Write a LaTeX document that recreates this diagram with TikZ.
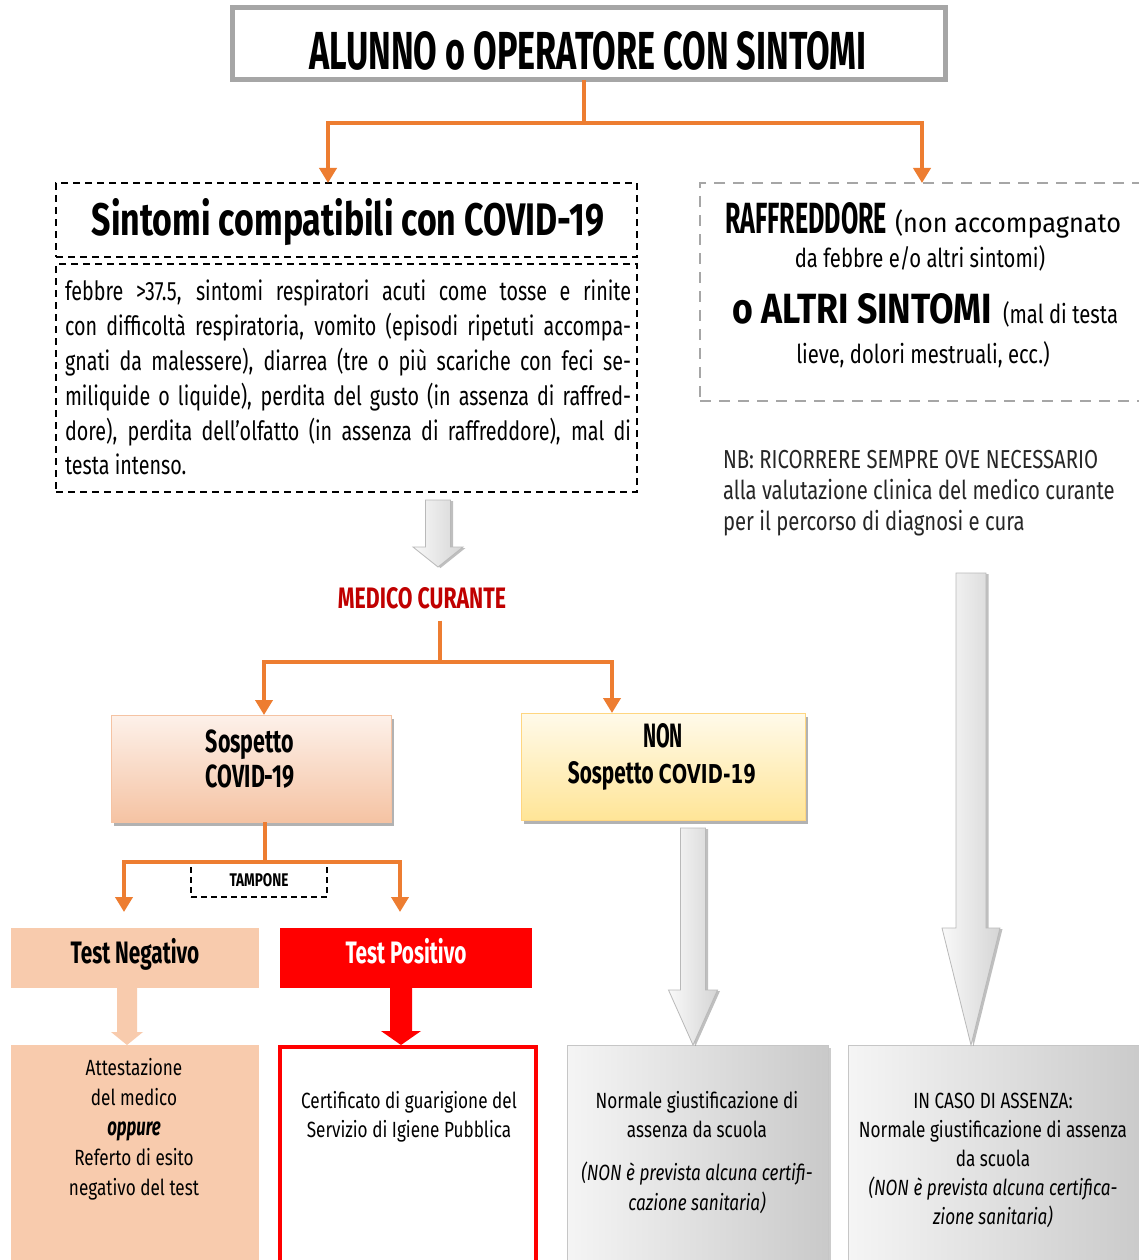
\documentclass[tikz,border=0pt]{standalone}
\usepackage{fontspec}
\setmainfont{Fira Sans}[FakeStretch=0.78]
\newfontfamily\hv{Fira Sans}[FakeStretch=0.67]
\newfontfamily\bodyf{Fira Sans}[FakeStretch=0.745]
\newfontfamily\dvb{DejaVu Sans}[FakeStretch=0.7]
\usetikzlibrary{arrows.meta,shadows,calc}
\definecolor{orng}{HTML}{ED7D31}
\definecolor{peach}{HTML}{F8CBAD}
\definecolor{dred}{HTML}{C00000}
\definecolor{topgray}{HTML}{A6A6A6}
\definecolor{dashgray}{HTML}{A6A6A6}
\definecolor{susptop}{HTML}{FDF1EA}
\definecolor{suspbot}{HTML}{F5C3A3}
\definecolor{nontop}{HTML}{FFFAEA}
\definecolor{nonbot}{HTML}{FFE597}
\definecolor{txtgray}{HTML}{262626}
\newcommand\rs[1]{\fontsize{#1}{#1}\selectfont}
\newcommand\blockarrow[6]{%
  \path[#1] ($(#2)+(-#4,0)$) -- ($(#2)+(#4,0)$) -- ($(#3)+(#4,-#6)$) -- ($(#3)+(#5,-#6)$) -- (#3) -- ($(#3)+(-#5,-#6)$) -- ($(#3)+(-#4,-#6)$) -- cycle;}
\newcommand\bodyl[3]{\node[anchor=base west] (#1) at (65,#2) {\bodyf\rs{26.5}\makebox[566pt][s]{#3}};}
\newcommand\txl[4]{\node[anchor=base,#1] (#2) at (#3) {#4};}
\begin{document}
\begin{tikzpicture}[x=1pt,y=-1pt,
  every node/.style={inner sep=0pt,outer sep=0pt},
  box/.style={rectangle,anchor=north west},
  dashbox/.style={draw=black,line width=1.8pt,dash pattern=on 7pt off 5pt},
  gdash/.style={draw=dashgray,line width=1.6pt,dash pattern=on 11pt off 8pt},
  oline/.style={draw=orng,line width=4.5pt},
  oarrow/.style={oline,-{Triangle[width=17pt,length=15pt]}},
  shad/.style={drop shadow={shadow xshift=3pt,shadow yshift=-4pt,fill=black,opacity=0.3}},
  garrow/.style={left color=gray!5,right color=gray!33,draw=gray!55,line width=0.8pt,
     drop shadow={shadow xshift=2.5pt,shadow yshift=-1pt,fill=black,opacity=0.25}},
  graybox/.style={box,left color=gray!8,right color=gray!42,draw=gray!45,line width=0.8pt,
     drop shadow={shadow xshift=3pt,shadow yshift=-3pt,fill=black,opacity=0.2}},
  reg/.style={font=\rs{22}},
]
\useasboundingbox (0,0) rectangle (1139,1260);
\fill[white] (0,0) rectangle (1139,1260);

% ---------- top ----------
\node[box,draw=topgray,line width=5pt,minimum width=713pt,minimum height=72pt] (top) at (232,8) {};
\node[anchor=base] (toptxt) at (588,70) {\resizebox{557pt}{38pt}{\hv\bfseries\rs{52}ALUNNO o OPERATORE CON SINTOMI}};

% ---------- left box ----------
\node[box,dashbox,minimum width=581pt,minimum height=74pt] (stitle) at (56,183) {};
\node[anchor=base] (stitletxt) at (348,235) {\resizebox{512pt}{37pt}{\hv\bfseries\rs{50}Sintomi compatibili con COVID-19}};
\node[box,dashbox,minimum width=581pt,minimum height=228pt] (sbody) at (56,264) {};
\bodyl{b1}{300}{febbre >37.5, sintomi respiratori acuti come tosse e rinite}
\bodyl{b2}{335}{con difficoltà respiratoria, vomito (episodi ripetuti accompa-}
\bodyl{b3}{370}{gnati da malessere), diarrea (tre o più scariche con feci se-}
\bodyl{b4}{405}{miliquide o liquide), perdita del gusto (in assenza di raffred-}
\bodyl{b5}{440}{dore), perdita dell’olfatto (in assenza di raffreddore), mal di}
\node[anchor=base west] (b6) at (65,474) {\bodyf\rs{26.5}testa intenso.};

% ---------- right box ----------
\node[box,gdash,minimum width=445pt,minimum height=218pt] (raff) at (700,183) {};
\node[anchor=base west] (r1a) at (725,233) {\resizebox{162pt}{31pt}{\hv\bfseries\rs{44}RAFFREDDORE}};
\node[anchor=base west] (r1b) at (895,233) {\scalebox{1.2}[1]{\rs{27}(non accompagnato}};
\txl{}{r2}{920,267}{\rs{26}da febbre e/o altri sintomi)}
\node[anchor=base west] (r3a) at (732,323) {\resizebox{260pt}{30pt}{\hv\bfseries\rs{44}o ALTRI SINTOMI}};
\node[anchor=base west] (r3b) at (1003,323) {\rs{26}(mal di testa};
\txl{}{r4}{923,363}{\rs{26}lieve, dolori mestruali, ecc.)}

% ---------- NB ----------
\node[anchor=base west,text=txtgray] (nb1) at (723,468) {\rs{26}NB: RICORRERE SEMPRE OVE NECESSARIO};
\node[anchor=base west,text=txtgray] (nb2) at (723,499) {\rs{26}alla valutazione clinica del medico curante};
\node[anchor=base west,text=txtgray] (nb3) at (723,530) {\rs{26}per il percorso di diagnosi e cura};

% ---------- top connectors ----------
\coordinate (j1) at (584,123);
\draw[oline] (top.south -| j1) -- (j1);
\draw[oarrow] (j1) -| ([xshift=-18.5pt]stitle.north);
\draw[oarrow] (j1) -| ([xshift=-0.5pt]raff.north);

% ---------- medico ----------
\coordinate (g1s) at (438,500);
\coordinate (g1t) at (438,567);
\blockarrow{garrow}{g1s}{g1t}{12.5}{25}{20}
\node[anchor=base,text=dred] (med) at (422,608) {\resizebox{168pt}{21pt}{\hv\bfseries\rs{30}MEDICO CURANTE}};
\coordinate (j2) at (440,662);
\draw[oline] ([yshift=-12pt]med.south -| j2) -- (j2);

% ---------- suspect / non suspect ----------
\node[box,top color=susptop,bottom color=suspbot,draw=suspbot,line width=0.8pt,shad,
      minimum width=280pt,minimum height=107pt] (susp) at (111,715) {};
\txl{}{susp1}{250,752}{\hv\bfseries\rs{32}Sospetto}
\txl{}{susp2}{250,787}{\hv\bfseries\rs{32}COVID-19}
\node[box,top color=nontop,bottom color=nonbot,draw=nonbot!85!orange,line width=0.8pt,shad,
      minimum width=284pt,minimum height=107pt] (non) at (521,713) {};
\txl{}{non1}{663,747}{\resizebox{40pt}{24pt}{\hv\bfseries\rs{34}NON}}
\txl{}{non2}{662,783}{\hv\bfseries\rs{31}Sospetto {\dvb\bfseries\rs{26}COVID-19}}
\draw[oarrow] (j2) -| ([xshift=13pt]susp.north);
\draw[oarrow] (j2) -| ([xshift=-51pt]non.north);

% ---------- tampone ----------
\coordinate (j3) at (265,862);
\draw[oline] (susp.south -| j3) -- (j3);
\node[box,dashbox,line width=1.5pt,dash pattern=on 6pt off 4pt,minimum width=136pt,minimum height=34pt] (tamp) at (191,863)
  {\resizebox{59pt}{13pt}{\hv\bfseries\rs{18}TAMPONE}};
\node[box,fill=peach,minimum width=248pt,minimum height=60pt] (neg) at (11,928) {};
\txl{}{negtxt}{135,963}{\hv\bfseries\rs{31}Test Negativo}
\node[box,fill=red,minimum width=252pt,minimum height=60pt] (pos) at (280,928) {};
\txl{text=white}{postxt}{406,963}{\hv\bfseries\rs{31}Test Positivo}
\draw[oarrow] (j3) -| ([xshift=-11pt,yshift=16pt]neg.north);
\draw[oarrow] (j3) -| ([xshift=-6pt,yshift=16pt]pos.north);

% ---------- bottom boxes ----------
\node[box,fill=peach,minimum width=248pt,minimum height=220pt] (att) at (11,1045) {};
\txl{reg}{att1}{134,1075}{Attestazione}
\txl{reg}{att2}{134,1105}{del medico}
\txl{}{att3}{134,1135}{\hv\bfseries\itshape\rs{25}oppure}
\txl{reg}{att4}{134,1165}{Referto di esito}
\txl{reg}{att5}{134,1195}{negativo del test}

\node[box,draw=red,line width=4pt,fill=white,minimum width=256pt,minimum height=220pt] (cert) at (280,1047) {};
\txl{reg}{cert1}{409,1108}{Certificato di guarigione del}
\txl{reg}{cert2}{409,1137}{Servizio di Igiene Pubblica}

\node[graybox,minimum width=261pt,minimum height=220pt] (norm) at (567,1045) {};
\txl{reg}{norm1}{697,1108}{Normale giustificazione di}
\txl{reg}{norm2}{697,1137}{assenza da scuola}
\txl{reg}{norm3}{697,1180}{\itshape (NON è prevista alcuna certifi-}
\txl{reg}{norm4}{697,1210}{\itshape cazione sanitaria)}

\node[graybox,minimum width=300pt,minimum height=220pt] (inc) at (848,1045) {};
\txl{reg}{inc1}{993,1108}{IN CASO DI ASSENZA:}
\txl{reg}{inc2}{993,1137}{Normale giustificazione di assenza}
\txl{reg}{inc3}{993,1166}{da scuola}
\txl{reg}{inc4}{993,1195}{\itshape (NON è prevista alcuna certifica-}
\txl{reg}{inc5}{993,1224}{\itshape zione sanitaria)}

% ---------- block arrows ----------
\coordinate (pa1) at (127,988);
\coordinate (pa2) at (127,1045);
\blockarrow{fill=peach}{pa1}{pa2}{10}{16}{13}
\coordinate (ra1) at (401,988);
\coordinate (ra2) at (401,1045);
\blockarrow{fill=red}{ra1}{ra2}{11}{20}{14}
\coordinate (g2s) at (693,828);
\coordinate (g2t) at (693,1045);
\blockarrow{garrow}{g2s}{g2t}{12.5}{24.5}{55}
\coordinate (g3s) at (971,573);
\coordinate (g3t) at (971,1045);
\blockarrow{garrow}{g3s}{g3t}{15}{29}{117}
\end{tikzpicture}
\end{document}
